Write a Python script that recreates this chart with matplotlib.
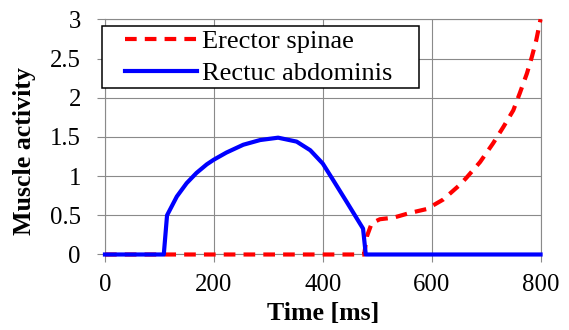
import matplotlib
matplotlib.use('Agg')
import matplotlib.pyplot as plt
from matplotlib.legend_handler import HandlerLine2D

plt.rcParams['font.family'] = ['Liberation Serif', 'DejaVu Serif']

# erector spinae activity (ms, activity)
es_t = [0, 476, 481, 490, 505, 530, 560, 591, 621, 652, 664, 689, 713, 732, 750, 762, 775,
        784, 792, 800]
es_y = [0, 0, 0.23, 0.40, 0.45, 0.47, 0.53, 0.58, 0.70, 0.89, 0.98, 1.18, 1.42, 1.63, 1.84,
        2.06, 2.31, 2.52, 2.73, 3.0]

# rectus abdominis activity (ms, activity)
ra_t = [0, 108, 114, 132, 150, 168, 187, 200, 223, 254, 285, 318, 352, 377, 400, 419, 444,
        474, 479, 800]
ra_y = [0, 0, 0.50, 0.74, 0.91, 1.04, 1.15, 1.21, 1.30, 1.40, 1.46, 1.49, 1.44, 1.33, 1.16,
        0.95, 0.67, 0.33, 0, 0]

x_ticks = [0, 200, 400, 600, 800]
y_ticks = [0, 0.5, 1, 1.5, 2, 2.5, 3]
y_ticklabels = ['0', '0.5', '1', '1.5', '2', '2.5', '3']

grey = '#8a8a8a'

fig = plt.figure(figsize=(5.69, 3.30), dpi=100)
ax = fig.add_axes([0.1845, 0.2288, 0.7655, 0.7127])

ax.plot(es_t, es_y, color='#ff0000', lw=3.0, dashes=(2.8, 1.95), dash_capstyle='butt',
        dash_joinstyle='round', label='Erector spinae', clip_on=False, zorder=3)
ax.plot(ra_t, ra_y, color='#0000ff', lw=3.0, solid_joinstyle='round',
        label='Rectuc abdominis', clip_on=False, zorder=4)

ax.set_xlim(0, 800)
ax.set_ylim(0, 3)
ax.set_xticks(x_ticks)
ax.set_yticks(y_ticks)
ax.set_yticklabels(y_ticklabels)
ax.grid(True, color=grey, lw=0.8)
ax.set_axisbelow(True)
for s in ax.spines.values():
    s.set_color(grey)
    s.set_linewidth(0.8)
ax.tick_params(axis='both', colors=grey, length=5.8, width=0.8, labelsize=17.8,
               labelcolor='black')
ax.tick_params(axis='y', pad=11.5)
ax.tick_params(axis='x', pad=8)

ax.set_xlabel('Time [ms]', fontsize=18.6, fontweight='bold')
ax.xaxis.set_label_coords(0.5, -0.249)
ax.xaxis.label.set_va('center')
ax.set_ylabel('Muscle activity', fontsize=18.6, fontweight='bold')
ax.yaxis.set_label_coords(-0.184, 0.438)
ax.yaxis.label.set_va('center')

leg = ax.legend(loc='upper left', bbox_to_anchor=(-0.0076, 0.66, 0.7286, 0.3116),
                mode='expand', borderaxespad=0, fontsize=19, borderpad=0.13,
                labelspacing=0.33, handlelength=3.5, handletextpad=0.19,
                fancybox=False, framealpha=1, edgecolor='black',
                handler_map={matplotlib.lines.Line2D: HandlerLine2D(xpad=0.75)})
leg.get_frame().set_linewidth(1.1)
leg.set_zorder(10)

fig.savefig('out.png', dpi=100)
